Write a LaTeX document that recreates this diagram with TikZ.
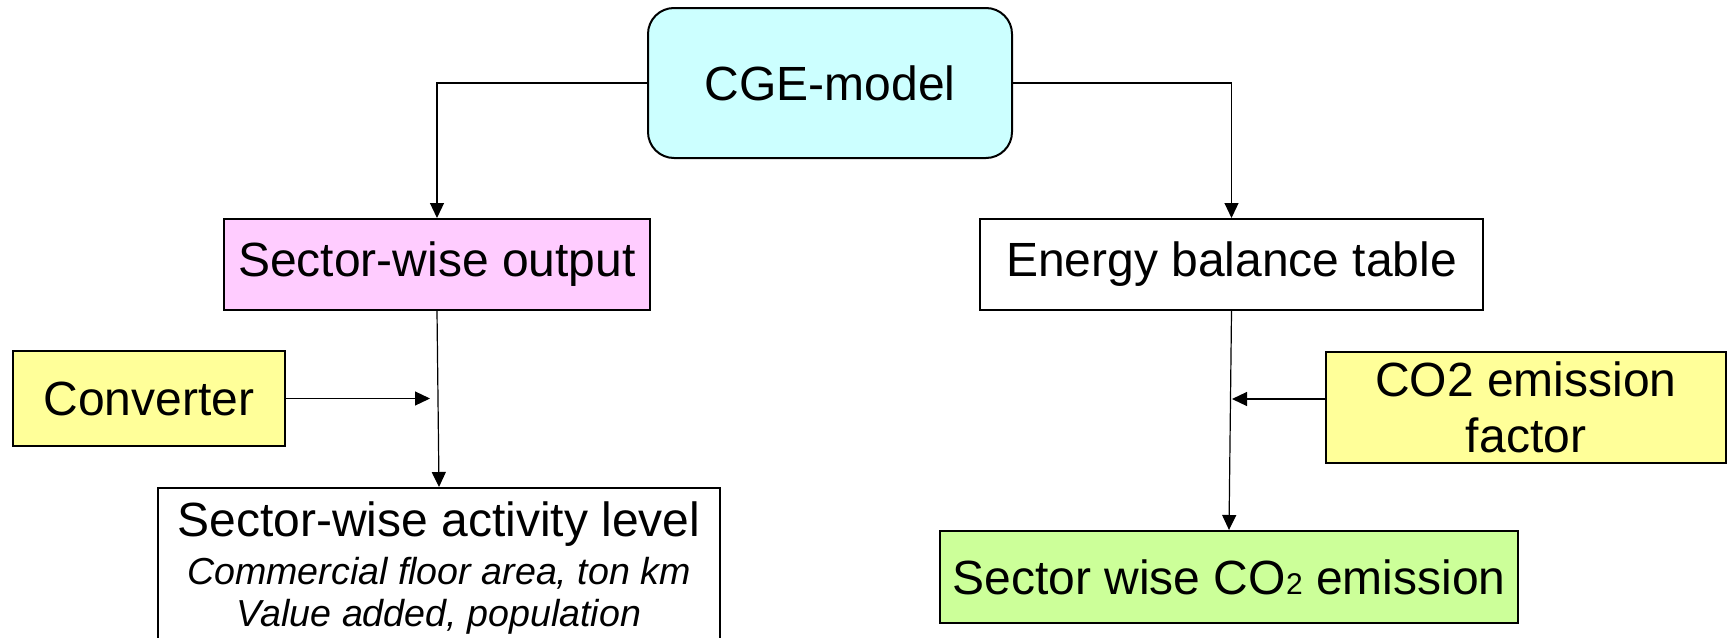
\documentclass[tikz,border=0pt]{standalone}
\usepackage{fontspec}
\setmainfont{Liberation Sans}
\usetikzlibrary{arrows.meta}
\definecolor{modelcolor}{RGB}{204,255,255}
\definecolor{outputcolor}{RGB}{255,204,255}
\definecolor{inputcolor}{RGB}{255,255,153}
\definecolor{emissioncolor}{RGB}{204,255,153}

\begin{document}
\begin{tikzpicture}[x=0.5pt,y=-0.5pt,
flowbox/.style={
  draw=black,
  line width=1pt,
  fill=white,
  align=center,
  inner sep=0pt,
  font={\fontsize{24}{28}\selectfont}},
flowarrow/.style={
  line width=0.6pt,
  -{Triangle[length=7.5pt,width=7pt]}},
]
\clip (0,0) rectangle (1728,637);
\node[flowbox,fill=modelcolor,rounded corners=13pt,minimum width=182pt,minimum height=75pt] (CGE) at (830,83) {CGE-model};
\node[flowbox,fill=outputcolor,minimum width=213pt,minimum height=45.5pt] (OUT) at (437,264.5) {Sector-wise output};
\node[flowbox,minimum width=251.5pt,minimum height=45.5pt] (EBT) at (1231.5,264.5) {Energy balance table};
\node[flowbox,fill=inputcolor,minimum width=136pt,minimum height=47.5pt] (CONV) at (149,398.5) {Converter};
\node[flowbox,fill=inputcolor,minimum width=200pt,minimum height=55.5pt] (CEF) at (1526,407.5) {CO2 emission\\factor};
\node[flowbox,anchor=north,minimum width=281pt,minimum height=80.5pt,
  font={\fontsize{18.8}{21}\selectfont\itshape}] (ACT) at (439,487)
  {{\upshape\fontsize{24}{28}\selectfont Sector-wise activity level}\\[3pt]
   Commercial floor area, ton km\\Value added, population};
\node[flowbox,fill=emissioncolor,minimum width=289pt,minimum height=46pt] (EMI) at (1229,577)
  {Sector wise CO{\fontsize{15}{15}\selectfont 2} emission};

% joins on the vertical flows
\coordinate (JL) at (430,398.5);
\coordinate (JR) at (1232,399);

\draw[flowarrow] (CGE.west) -| (OUT.north);
\draw[flowarrow] (CGE.east) -| (EBT.north);
\draw[flowarrow] (OUT.south) -- (ACT.north);
\draw[flowarrow] (EBT.south) -- (EMI.north);
\draw[flowarrow] (CONV.east) -- (JL);
\draw[flowarrow] (CEF.west |- JR) -- (JR);
\end{tikzpicture}
\end{document}
